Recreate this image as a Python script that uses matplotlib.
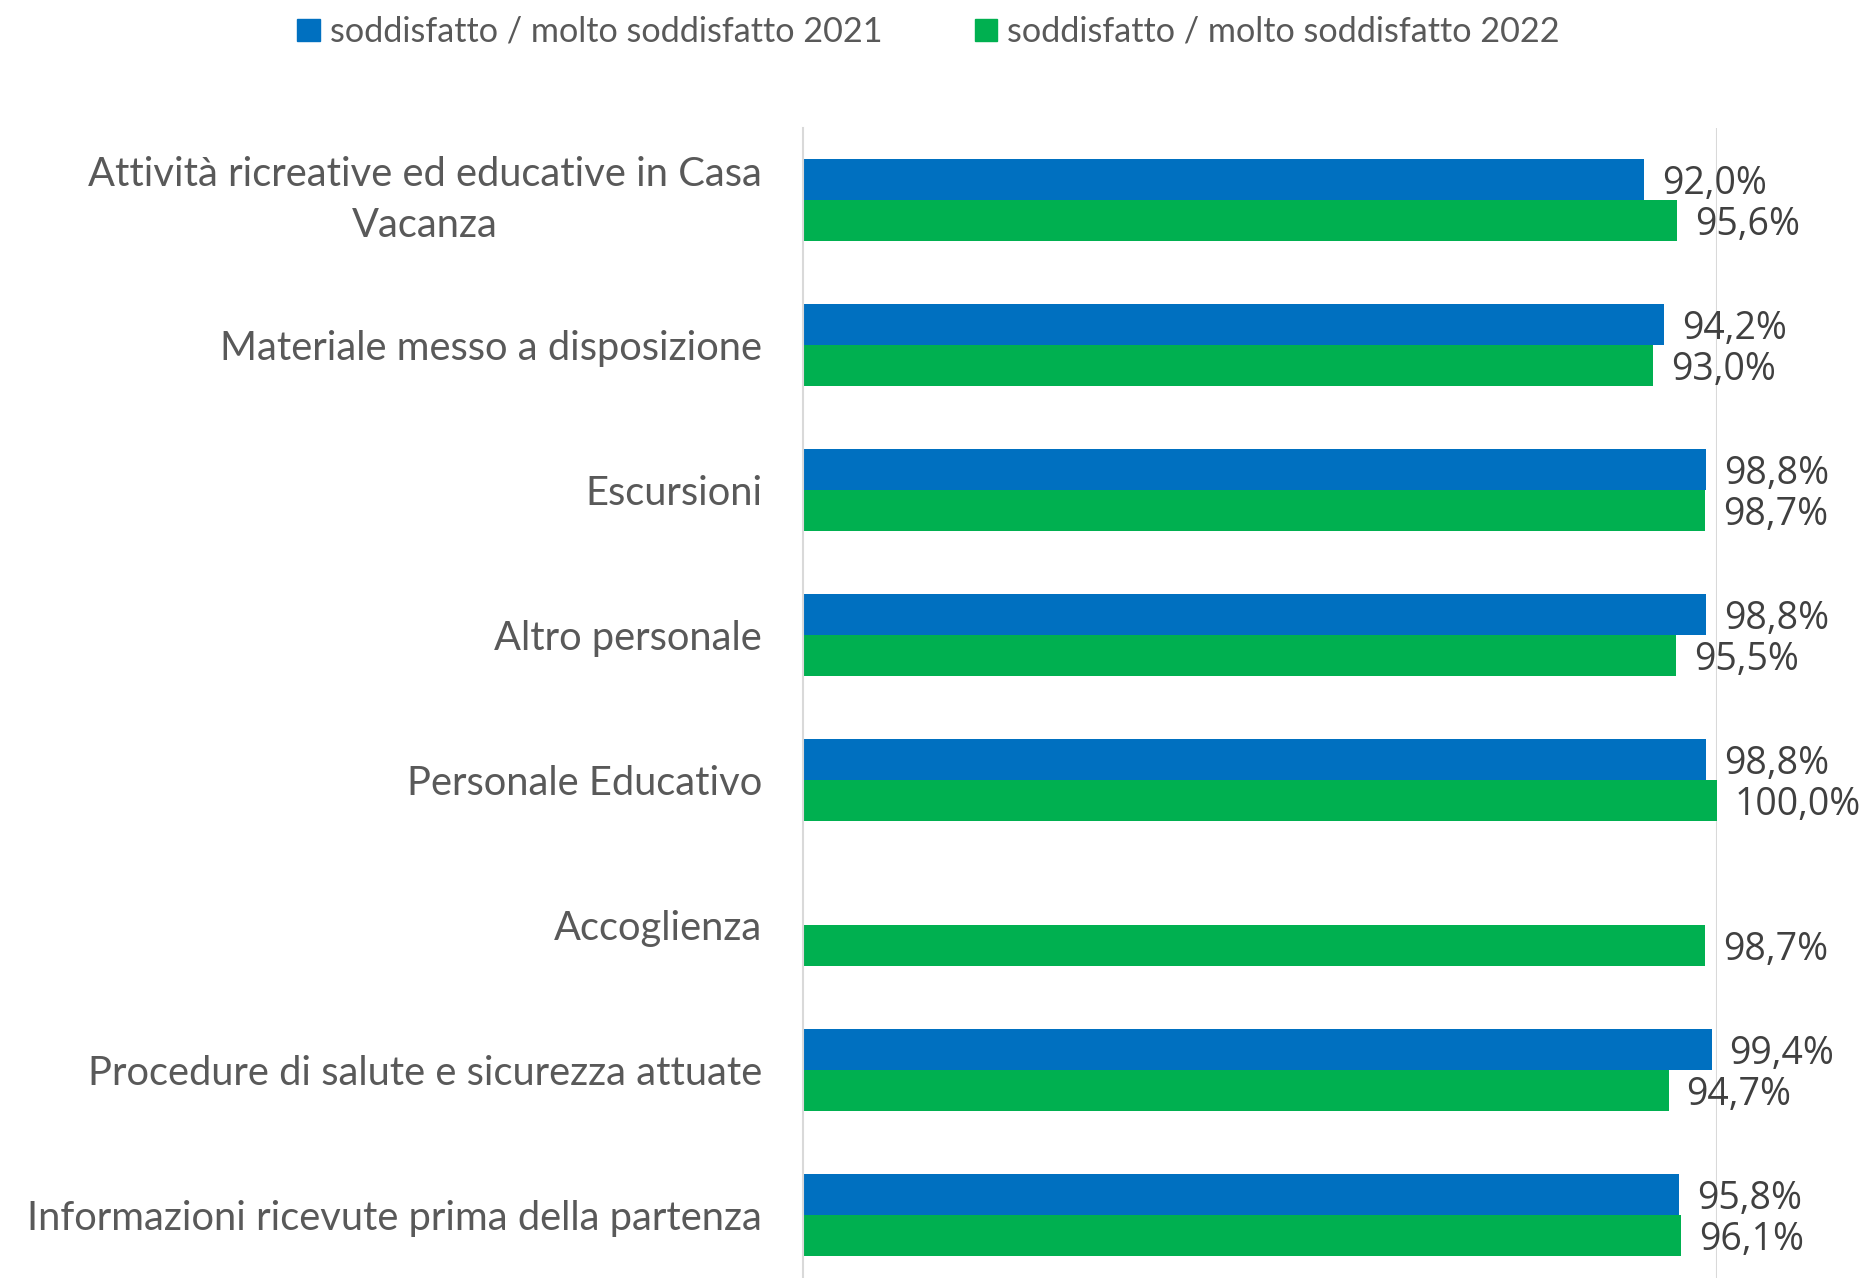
import numpy as np
import matplotlib.pyplot as plt
from matplotlib.patches import Patch

# categories, top to bottom
categorie = [
    "Attività ricreative ed educative in Casa\nVacanza",
    "Materiale messo a disposizione",
    "Escursioni",
    "Altro personale",
    "Personale Educativo",
    "Accoglienza",
    "Procedure di salute e sicurezza attuate",
    "Informazioni ricevute prima della partenza",
]
val_2021 = [92.0, 94.2, 98.8, 98.8, 98.8, np.nan, 99.4, 95.8]
val_2022 = [95.6, 93.0, 98.7, 95.5, 100.0, 98.7, 94.7, 96.1]
serie = ["soddisfatto / molto soddisfatto 2021", "soddisfatto / molto soddisfatto 2022"]

blu = "#0070C0"
verde = "#00B050"
grigio = "#595959"

fig = plt.figure(figsize=(18.61, 12.78), dpi=100)
W, H = 1861, 1278
# plot area in pixels: x 803..1717, y 127.5..1287.5 (bottom is cut off)
ax = fig.add_axes([803 / W, (H - 1287.5) / H, (1717 - 803) / W, 1160 / H])

y = np.arange(len(categorie))
h = 0.283
b1 = ax.barh(y - h / 2, val_2021, height=h, color=blu, label=serie[0])
b2 = ax.barh(y + h / 2, val_2022, height=h, color=verde, label=serie[1])

def etichette(vals):
    return ["" if np.isnan(v) else f"{v:.1f}%".replace(".", ",") for v in vals]

for bars, vals in [(b1, val_2021), (b2, val_2022)]:
    txts = ax.bar_label(bars, labels=etichette(vals), padding=13, fontsize=27,
                        family="Open Sans", color="#404040", clip_on=False)
    for t in txts:
        t.set_va("center_baseline")

ax.set_xlim(0, 100)
ax.set_ylim(len(categorie) - 0.5, -0.5)
ax.set_yticks(y)
ax.set_yticklabels(categorie, fontsize=28.7, family="Lato", color=grigio,
                   multialignment="center", linespacing=1.45)
# two-line label: center the block, not the first baseline
ax.get_yticklabels()[0].set_va("center")
ax.tick_params(axis="y", length=0, pad=29.5)
ax.set_xticks([])
for s in ["top", "right", "bottom"]:
    ax.spines[s].set_visible(False)
ax.spines["left"].set_color("#D9D9D9")
ax.spines["left"].set_linewidth(1.5)
ax.axvline(100, color="#D9D9D9", lw=1.5, zorder=0)

handles = [Patch(color=blu), Patch(color=verde)]
fig.legend(handles, serie, loc="center", bbox_to_anchor=(0.499, 0.975), ncol=2,
           frameon=False, prop={"family": "Lato", "size": 24.6},
           labelcolor=grigio, handlelength=0.65, handleheight=0.65,
           handletextpad=0.3, columnspacing=2.7)

fig.savefig("out.png", dpi=100)
